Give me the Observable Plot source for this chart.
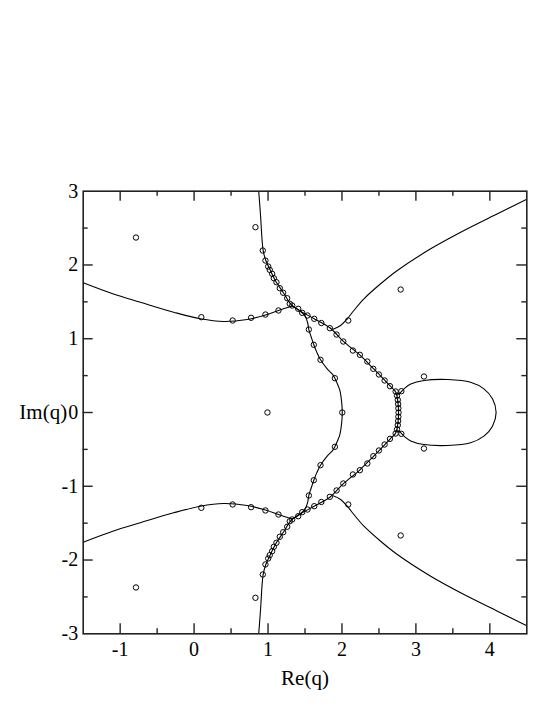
<!DOCTYPE html>
<html><head><meta charset="utf-8">
<script src="https://cdn.jsdelivr.net/npm/d3@7"></script>
<script src="https://cdn.jsdelivr.net/npm/@observablehq/plot@0.6"></script>
<style>body{margin:0;background:#fff}</style>
</head><body><div id="chart"></div>
<script>
// ---- zeros (open circles) ----
const zeroRe = [
  -0.786, 0.830, 2.085, 2.794, 3.109, 2.803,
  0.098, 0.522, 0.771, 0.965, 1.141,
  0.929, 0.965, 1.002, 1.023, 1.056, 1.078, 1.114, 1.159, 1.205, 1.259, 1.294,
  1.327, 1.408, 1.462, 1.534, 1.625, 1.721, 1.836, 1.927, 2.018, 2.148, 2.242, 2.343, 2.424, 2.500, 2.577, 2.649, 2.726,
  2.745, 2.755, 2.760, 2.763,
  1.552, 1.619, 1.710, 1.904,
  -0.786, 0.830, 2.085, 2.794, 3.109, 2.803,
  0.098, 0.522, 0.771, 0.965, 1.141,
  0.929, 0.965, 1.002, 1.023, 1.056, 1.078, 1.114, 1.159, 1.205, 1.259, 1.294,
  1.327, 1.408, 1.462, 1.534, 1.625, 1.721, 1.836, 1.927, 2.018, 2.148, 2.242, 2.343, 2.424, 2.500, 2.577, 2.649, 2.726,
  2.745, 2.755, 2.760, 2.763,
  1.552, 1.619, 1.710, 1.904,
  0.992, 2.004, 2.765
];
const zeroIm = [
  2.372, 2.512, 1.247, 1.667, 0.488, 0.289,
  1.292, 1.247, 1.284, 1.328, 1.383,
  2.196, 2.060, 1.979, 1.934, 1.880, 1.821, 1.766, 1.685, 1.623, 1.549, 1.474,
  1.450, 1.406, 1.351, 1.315, 1.270, 1.213, 1.143, 1.057, 0.962, 0.840, 0.782, 0.691, 0.592, 0.515, 0.434, 0.357, 0.285,
  0.228, 0.171, 0.114, 0.057,
  1.125, 0.918, 0.714, 0.465,
  -2.372, -2.512, -1.247, -1.667, -0.488, -0.289,
  -1.292, -1.247, -1.284, -1.328, -1.383,
  -2.196, -2.060, -1.979, -1.934, -1.880, -1.821, -1.766, -1.685, -1.623, -1.549, -1.474,
  -1.450, -1.406, -1.351, -1.315, -1.270, -1.213, -1.143, -1.057, -0.962, -0.840, -0.782, -0.691, -0.592, -0.515, -0.434, -0.357, -0.285,
  -0.228, -0.171, -0.114, -0.057,
  -1.125, -0.918, -0.714, -0.465,
  0, 0, 0
];

// ---- limiting curves (traced) ----
const leftUpRe  = [-1.5, -1.1, -0.728, -0.277, 0.085, 0.40, 0.717, 0.965, 1.141, 1.33];
const leftUpIm  = [1.758, 1.609, 1.495, 1.360, 1.270, 1.234, 1.261, 1.322, 1.383, 1.445];
const leftLoRe  = [-1.5, -1.1, -0.728, -0.277, 0.085, 0.40, 0.717, 0.965, 1.141, 1.33];
const leftLoIm  = [-1.758, -1.609, -1.495, -1.360, -1.270, -1.234, -1.261, -1.322, -1.383, -1.445];

const diagRe = [1.33, 1.46, 1.63, 1.84, 2.02, 2.24, 2.43, 2.58, 2.65, 2.72, 2.745, 2.758, 2.764, 2.765,
                2.764, 2.758, 2.745, 2.72, 2.65, 2.58, 2.43, 2.24, 2.02, 1.84, 1.63, 1.46, 1.33];
const diagIm = [1.445, 1.36, 1.268, 1.145, 0.965, 0.78, 0.59, 0.435, 0.36, 0.29, 0.22, 0.13, 0.06, 0,
                -0.06, -0.13, -0.22, -0.29, -0.36, -0.435, -0.59, -0.78, -0.965, -1.145, -1.268, -1.36, -1.445];

const topUpRe = [0.874, 0.90, 0.92, 0.935, 0.97, 1.03, 1.11, 1.21, 1.29, 1.33];
const topUpIm = [3.0, 2.65, 2.33, 2.19, 2.06, 1.93, 1.77, 1.62, 1.49, 1.445];
const topLoRe = [0.874, 0.90, 0.92, 0.935, 0.97, 1.03, 1.11, 1.21, 1.29, 1.33];
const topLoIm = [-3.0, -2.65, -2.33, -2.19, -2.06, -1.93, -1.77, -1.62, -1.49, -1.445];

const innerRe = [1.33, 1.43, 1.50, 1.535, 1.552, 1.585, 1.619, 1.66, 1.71, 1.80, 1.87, 1.904, 1.95, 1.972, 1.995, 2.004,
                 1.995, 1.972, 1.95, 1.904, 1.87, 1.80, 1.71, 1.66, 1.619, 1.585, 1.552, 1.535, 1.50, 1.43, 1.33];
const innerIm = [1.445, 1.38, 1.31, 1.22, 1.125, 1.02, 0.918, 0.815, 0.714, 0.592, 0.52, 0.465, 0.36, 0.298, 0.15, 0,
                 -0.15, -0.298, -0.36, -0.465, -0.52, -0.592, -0.714, -0.815, -0.918, -1.02, -1.125, -1.22, -1.31, -1.38, -1.445];

const rightUpRe = [4.5, 4.103, 3.651, 3.20, 2.749, 2.523, 2.297, 2.161, 2.072, 1.981, 1.88];
const rightUpIm = [2.89, 2.693, 2.467, 2.219, 1.925, 1.745, 1.541, 1.383, 1.27, 1.179, 1.13];
const rightLoRe = [4.5, 4.103, 3.651, 3.20, 2.749, 2.523, 2.297, 2.161, 2.072, 1.981, 1.88];
const rightLoIm = [-2.89, -2.693, -2.467, -2.219, -1.925, -1.745, -1.541, -1.383, -1.27, -1.179, -1.13];

const loopRe = [2.745, 2.79, 2.85, 2.93, 3.11, 3.43, 3.74, 3.92, 4.036, 4.085, 4.036, 3.92, 3.74, 3.43, 3.11, 2.93, 2.85, 2.79, 2.745];
const loopIm = [0.235, 0.27, 0.33, 0.385, 0.434, 0.447, 0.411, 0.321, 0.186, 0, -0.186, -0.321, -0.411, -0.447, -0.434, -0.385, -0.33, -0.27, -0.235];

// ---- ticks ----
const xMajor = [-1, 0, 1, 2, 3, 4];
const xMinor = [-0.5, 0.5, 1.5, 2.5, 3.5];
const yMajor = [-2, -1, 0, 1, 2];
const yMinor = [-2.5, -1.5, -0.5, 0.5, 1.5, 2.5];
const xLabels = [-1, 0, 1, 2, 3, 4];
const yLabels = [-3, -2, -1, 0, 1, 2, 3];

// build tables
const zeros = zeroRe.map((re, i) => ({re, im: zeroIm[i]}));
const segs = [
  ["leftUp", leftUpRe, leftUpIm], ["leftLo", leftLoRe, leftLoIm],
  ["diag", diagRe, diagIm], ["topUp", topUpRe, topUpIm], ["topLo", topLoRe, topLoIm],
  ["inner", innerRe, innerIm], ["rightUp", rightUpRe, rightUpIm], ["rightLo", rightLoRe, rightLoIm],
  ["loop", loopRe, loopIm]
];
const curves = segs.flatMap(([name, rs, is]) => rs.map((re, i) => ({seg: name, re, im: is[i]})));

const W = 554, H = 717;
const mT = 190.7, mB = 83.7, mL = 82.7, mR = 27.7;
const innerW = W - mL - mR, innerH = H - mT - mB;
const font = "Liberation Serif";
const ink = "#222";

const chart = Plot.plot({
  width: W, height: H,
  marginTop: mT, marginBottom: mB, marginLeft: mL, marginRight: mR,
  style: {fontFamily: "'Liberation Serif', serif", fontSize: "20px", background: "#fff", color: "#000"},
  x: {domain: [-1.5, 4.5], axis: null},
  y: {domain: [-3, 3], axis: null},
  marks: [
    Plot.line(curves, {x: "re", y: "im", z: "seg", curve: "catmull-rom", stroke: "#000", strokeWidth: 1.1, clip: true}),
    Plot.dot(zeros, {x: "re", y: "im", r: 2.7, stroke: "#000", strokeWidth: 1, fill: "none"}),
    // inward ticks on four sides
    Plot.tickX(xMajor, {x: d => d, insetTop: innerH - 10, stroke: ink, strokeWidth: 1.4}),
    Plot.tickX(xMajor, {x: d => d, insetBottom: innerH - 10, stroke: ink, strokeWidth: 1.4}),
    Plot.tickX(xMinor, {x: d => d, insetTop: innerH - 5, stroke: ink, strokeWidth: 1.4}),
    Plot.tickX(xMinor, {x: d => d, insetBottom: innerH - 5, stroke: ink, strokeWidth: 1.4}),
    Plot.tickY(yMajor, {y: d => d, insetRight: innerW - 10, stroke: ink, strokeWidth: 1.4}),
    Plot.tickY(yMajor, {y: d => d, insetLeft: innerW - 10, stroke: ink, strokeWidth: 1.4}),
    Plot.tickY(yMinor, {y: d => d, insetRight: innerW - 5, stroke: ink, strokeWidth: 1.4}),
    Plot.tickY(yMinor, {y: d => d, insetLeft: innerW - 5, stroke: ink, strokeWidth: 1.4}),
    Plot.frame({stroke: ink, strokeWidth: 1.6}),
    // tick labels
    Plot.text(xLabels, {x: d => d, frameAnchor: "bottom", dy: 8, text: d => String(d), fontSize: 20, fontFamily: font, lineAnchor: "top"}),
    Plot.text(yLabels, {y: d => d, frameAnchor: "left", dx: -5, text: d => String(d), fontSize: 20, fontFamily: font, textAnchor: "end", lineAnchor: "middle"}),
    // axis titles
    Plot.text(["Re(q)"], {frameAnchor: "bottom", dy: 44, text: d => d, fontSize: 21, fontFamily: font, lineAnchor: "middle"}),
    Plot.text(["Im(q)"], {frameAnchor: "left", dx: -16, text: d => d, fontSize: 21, fontFamily: font, textAnchor: "end", lineAnchor: "middle"})
  ]
});
document.getElementById("chart").appendChild(chart);
</script></body></html>
